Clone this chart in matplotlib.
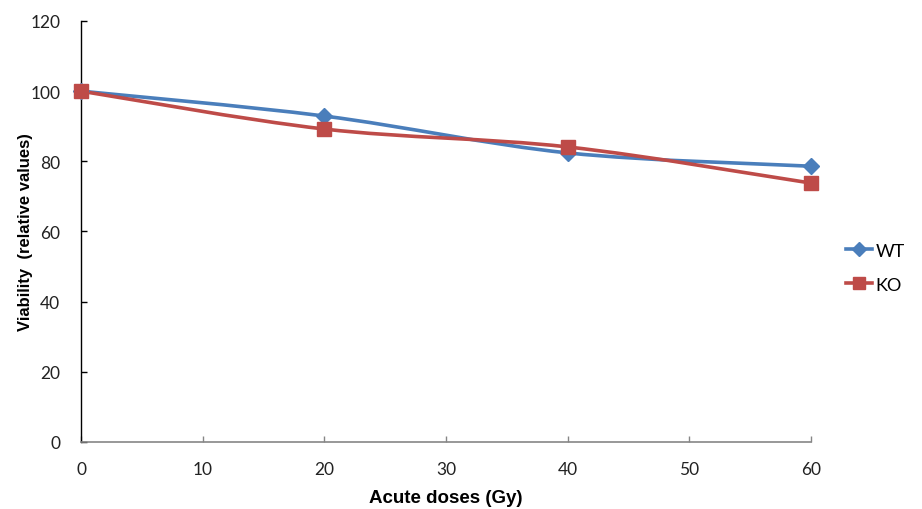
import matplotlib
matplotlib.use("Agg")
import matplotlib.pyplot as plt
from matplotlib.path import Path
from matplotlib.patches import PathPatch
from matplotlib.lines import Line2D
import numpy as np

doses = [0, 20, 40, 60]
wt = [100, 92.9, 82.4, 78.6]
ko = [100, 89.2, 84.1, 73.8]
x_ticks = [0, 10, 20, 30, 40, 50, 60]
y_ticks = [0, 20, 40, 60, 80, 100, 120]

blue = "#4A7EBB"
red = "#BE4B48"


def smooth_path(xs, ys):
    """Cubic Bezier path through the points (Catmull-Rom style smoothing)."""
    pts = np.column_stack([xs, ys]).astype(float)
    n = len(pts)
    verts = [pts[0]]
    codes = [Path.MOVETO]
    for i in range(n - 1):
        p0 = pts[i - 1] if i > 0 else pts[i]
        p1 = pts[i]
        p2 = pts[i + 1]
        p3 = pts[i + 2] if i + 2 < n else pts[i + 1]
        c1 = p1 + (p2 - p0) / 6.0
        c2 = p2 - (p3 - p1) / 6.0
        verts += [c1, c2, p2]
        codes += [Path.CURVE4] * 3
    return Path(verts, codes)


fig = plt.figure(figsize=(9.22, 5.10), dpi=100)
ax = fig.add_axes([0.0879, 0.1314, 0.7917, 0.8255])

for ys, color, marker, ms, label in [
    (wt, blue, "D", 8, "WT"),
    (ko, red, "s", 10, "KO"),
]:
    patch = PathPatch(smooth_path(doses, ys), facecolor="none",
                      edgecolor=color, lw=2.6, zorder=2, clip_on=False)
    ax.add_patch(patch)
    ax.plot(doses, ys, linestyle="none", marker=marker, ms=ms,
            color=color, zorder=3, clip_on=False)

ax.set_xlim(0, 60)
ax.set_ylim(0, 120)
ax.set_xticks(x_ticks)
ax.set_yticks(y_ticks)

for s in ["top", "right"]:
    ax.spines[s].set_visible(False)
ax.spines["left"].set_color("#000000")
ax.spines["bottom"].set_color("#868686")
ax.spines["left"].set_linewidth(1.0)
ax.spines["bottom"].set_linewidth(1.2)

ax.tick_params(axis="both", direction="in", length=4, width=1,
               labelsize=12.5, colors="#333333", labelcolor="#222222")
ax.tick_params(axis="x", pad=14, color="#868686")
ax.tick_params(axis="y", pad=15, color="#000000")
for lab in ax.get_xticklabels() + ax.get_yticklabels():
    lab.set_fontfamily("Lato")

ax.set_xlabel("Acute doses (Gy)", fontsize=13.5, fontweight="bold",
              family="Liberation Sans", labelpad=8)
ax.set_ylabel("Viability  (relative values)", fontsize=12, fontweight="bold",
              family="Liberation Sans", labelpad=-2)

handles = [
    Line2D([], [], color=blue, lw=2.6, marker="D", ms=7),
    Line2D([], [], color=red, lw=2.6, marker="s", ms=9),
]
leg = fig.legend(handles, ["WT", "KO"], loc="center left",
                 bbox_to_anchor=(0.918, 0.473), frameon=False,
                 prop={"family": "Lato", "size": 13}, handlelength=1.4,
                 handletextpad=0.2, labelspacing=1.0,
                 borderaxespad=0, borderpad=0)

fig.savefig("out.png", dpi=100)
